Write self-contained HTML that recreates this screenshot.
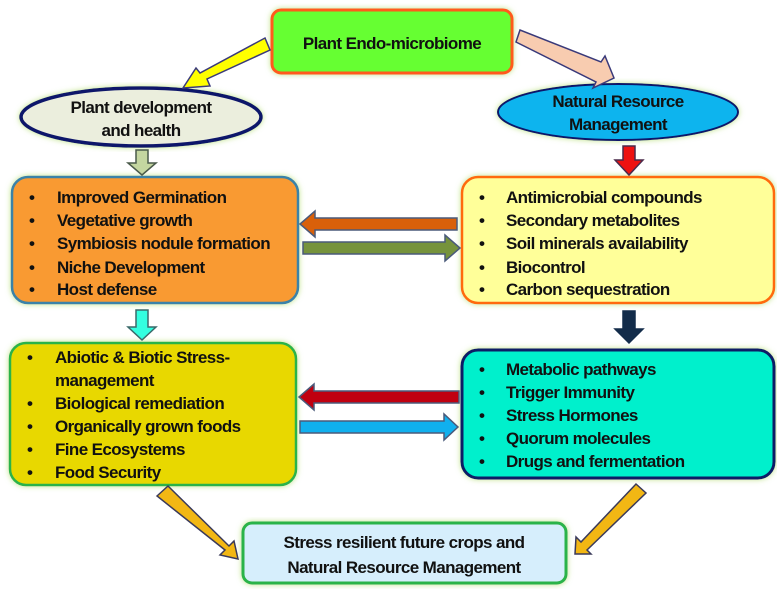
<!DOCTYPE html>
<html><head><meta charset="utf-8"><style>
html,body{margin:0;padding:0;background:#fff;}
svg{display:block}
text{font-family:"Liberation Sans",sans-serif;font-weight:bold;fill:#111;font-size:17px;letter-spacing:-0.6px}
</style></head><body>
<svg width="777" height="593" viewBox="0 0 777 593" xmlns="http://www.w3.org/2000/svg">
<defs>
<filter id="g" x="-10%" y="-10%" width="120%" height="120%">
<feDropShadow dx="0" dy="0" stdDeviation="3" flood-color="#b8e07a" flood-opacity="0.9"/>
</filter>
</defs>
<!-- boxes -->
<rect x="272" y="10" width="240" height="63" rx="9" fill="#66ff33" stroke="#ff5a1f" stroke-width="3" filter="url(#g)"/>
<ellipse cx="141" cy="117" rx="120" ry="29" fill="#ebeedd" stroke="#10186b" stroke-width="3.5" filter="url(#g)"/>
<ellipse cx="618" cy="112" rx="120" ry="28" fill="#10b4ee" stroke="#10186b" stroke-width="2" filter="url(#g)"/>
<rect x="12" y="177" width="286" height="126" rx="16" fill="#f99a33" stroke="#3b82a8" stroke-width="2.5" filter="url(#g)"/>
<rect x="462" y="177" width="312" height="126" rx="16" fill="#ffff99" stroke="#ff6a10" stroke-width="2.5" filter="url(#g)"/>
<rect x="10" y="343" width="286" height="142" rx="16" fill="#e8d800" stroke="#2cb34a" stroke-width="2.5" filter="url(#g)"/>
<rect x="462" y="350" width="312" height="128" rx="16" fill="#00f0cc" stroke="#0a1f66" stroke-width="3" filter="url(#g)"/>
<rect x="243" y="523" width="323" height="60" rx="9" fill="#d6eefc" stroke="#2cb34a" stroke-width="3" filter="url(#g)"/>
<!-- arrows -->
<g stroke-width="1.5">
<polygon points="265,38 270,50 207,79 210,86 183,88 196,68 200,73" fill="#ffff00" stroke="#3a3a7a"/>
<polygon points="520,30 516,42 596,82 593,88 614,78 605,56 601,62" fill="#f8ccb0" stroke="#3a3a7a"/>
<polygon points="136,150 148,150 148,163 156,163 142,175 128,163 136,163" fill="#c4d6a0" stroke="#4a5a4a"/>
<polygon points="623,146 635,146 635,160 643,160 629,175 615,160 623,160" fill="#ee1111" stroke="#4a2a4a"/>
<polygon points="457,218 457,230 315,230 315,237 300,224 315,211 315,218" fill="#d9600a" stroke="#4a5a7a"/>
<polygon points="303,242 303,254 445,254 445,261 460,248 445,235 445,242" fill="#76933c" stroke="#4a5a7a"/>
<polygon points="136,310 148,310 148,327 156,327 142,340 128,327 136,327" fill="#33ffe0" stroke="#3a6a6a"/>
<polygon points="623,311 635,311 635,329 643,329 629,343 615,329 623,329" fill="#132c4a" stroke="#132c4a"/>
<polygon points="459,391 459,403 314,403 314,410 299,397 314,384 314,391" fill="#c00010" stroke="#4a5a7a"/>
<polygon points="300,421 300,433 444,433 444,440 458,427 444,414 444,421" fill="#10b0ee" stroke="#4a5a7a"/>
<polygon points="157,496 168,486 229,546 234,541 238,559 220,555 225,550" fill="#f2b714" stroke="#3a3a5a"/>
<polygon points="636,484 646,493 587,550 591,554 575,554 576,537 581,542" fill="#f2b714" stroke="#3a3a5a"/>
</g>
<!-- text -->
<text x="392" y="49" text-anchor="middle" font-size="18">Plant Endo-microbiome</text>
<text x="141" y="113" text-anchor="middle">Plant development</text>
<text x="141" y="136" text-anchor="middle">and health</text>
<text x="618" y="107" text-anchor="middle">Natural Resource</text>
<text x="618" y="130" text-anchor="middle">Management</text>
<g>
<text x="29" y="203">•</text><text x="57" y="203">Improved Germination</text>
<text x="29" y="226">•</text><text x="57" y="226">Vegetative growth</text>
<text x="29" y="249">•</text><text x="57" y="249">Symbiosis nodule formation</text>
<text x="29" y="273">•</text><text x="57" y="273">Niche Development</text>
<text x="29" y="295">•</text><text x="57" y="295">Host defense</text>
</g>
<g>
<text x="479" y="203">•</text><text x="506" y="203">Antimicrobial compounds</text>
<text x="479" y="226">•</text><text x="506" y="226">Secondary metabolites</text>
<text x="479" y="249">•</text><text x="506" y="249">Soil minerals availability</text>
<text x="479" y="273">•</text><text x="506" y="273">Biocontrol</text>
<text x="479" y="295">•</text><text x="506" y="295">Carbon sequestration</text>
</g>
<g>
<text x="27" y="363">•</text><text x="55" y="363">Abiotic &amp; Biotic Stress-</text>
<text x="55" y="386">management</text>
<text x="27" y="409">•</text><text x="55" y="409">Biological remediation</text>
<text x="27" y="432">•</text><text x="55" y="432">Organically grown foods</text>
<text x="27" y="455">•</text><text x="55" y="455">Fine Ecosystems</text>
<text x="27" y="478">•</text><text x="55" y="478">Food Security</text>
</g>
<g>
<text x="479" y="375">•</text><text x="506" y="375">Metabolic pathways</text>
<text x="479" y="398">•</text><text x="506" y="398">Trigger Immunity</text>
<text x="479" y="421">•</text><text x="506" y="421">Stress Hormones</text>
<text x="479" y="444">•</text><text x="506" y="444">Quorum molecules</text>
<text x="479" y="467">•</text><text x="506" y="467">Drugs and fermentation</text>
</g>
<text x="404" y="548" text-anchor="middle" font-size="18">Stress resilient future crops and</text>
<text x="404" y="573" text-anchor="middle" font-size="18">Natural Resource Management</text>
</svg>
</body></html>
